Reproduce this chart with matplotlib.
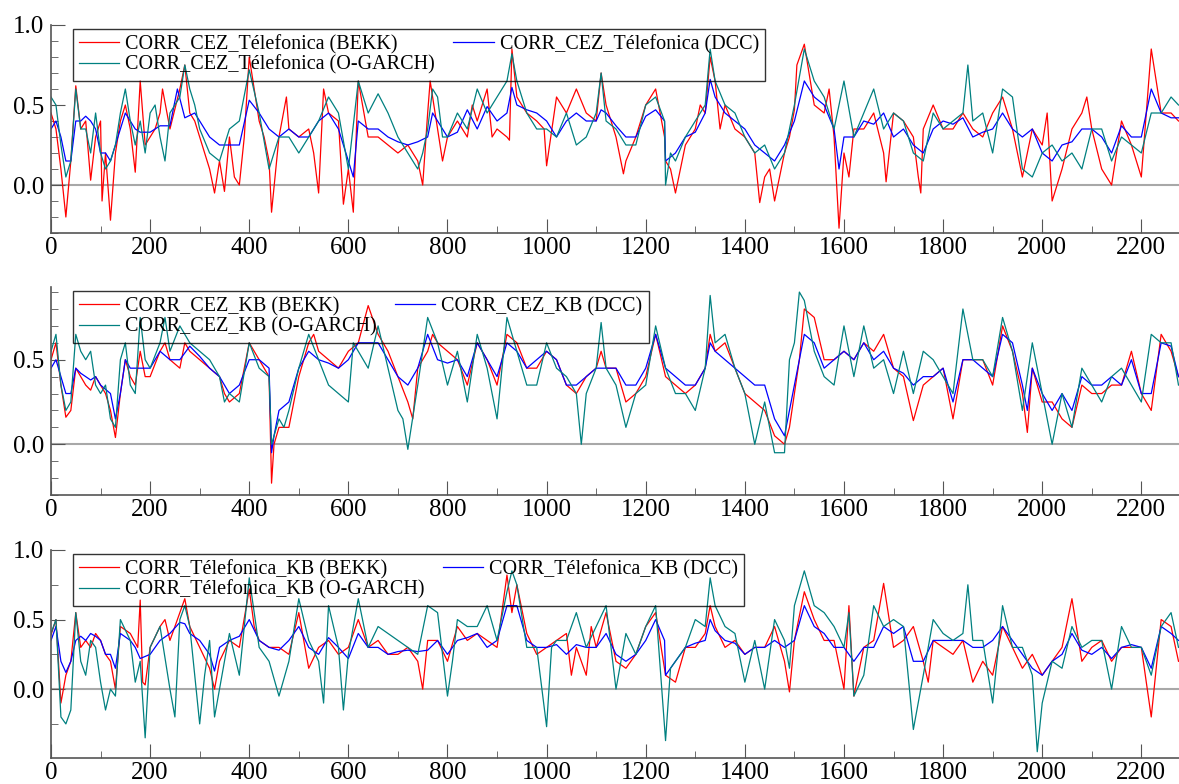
import numpy as np
import matplotlib.pyplot as plt
from matplotlib.ticker import MultipleLocator, FormatStrFormatter

plt.rcParams['font.family'] = ['Liberation Serif', 'DejaVu Serif']

# conditional correlations, (observation, value)
cez_tef_bekk = [(0, .45), (10, .35), (20, .1), (30, -.2), (40, .15), (50, .62), (60, .35), (70, .4), (80, .03), (90, .3),
                (100, .4), (103, -.1), (110, .2), (120, -.22), (130, .2), (140, .4), (150, .5), (160, .35), (170, .08),
                (180, .65), (190, .25), (200, .3), (210, .35), (220, .45), (225, .6), (240, .35), (260, .6), (270, .75),
                (280, .45), (290, .4), (300, .3), (310, .2), (320, .1), (330, -.05), (340, .15), (350, -.04), (360, .3),
                (370, .05), (380, .0), (390, .3), (400, .8), (410, .6), (420, .4), (430, .3), (440, .15), (445, -.17),
                (460, .3), (475, .55), (480, .35), (500, .3), (520, .35), (530, .2), (540, -.05), (550, .6), (560, .45),
                (580, .4), (590, -.12), (600, .1), (610, -.17), (620, .65), (640, .3), (660, .3), (680, .25), (700, .2),
                (720, .25), (740, .15), (750, .0), (760, .45), (765, .65), (780, .35), (790, .15), (800, .3), (820, .4),
                (840, .3), (850, .5), (860, .4), (880, .6), (890, .3), (900, .35), (920, .3), (925, .28), (930, .85),
                (940, .55), (960, .45), (980, .4), (995, .35), (1000, .12), (1020, .55), (1040, .45), (1060, .6),
                (1080, .45), (1100, .4), (1110, .7), (1120, .5), (1140, .3), (1155, .07), (1160, .15), (1180, .3),
                (1200, .5), (1220, .6), (1238, .3), (1240, .15), (1250, .1), (1260, -.05), (1280, .25), (1300, .35),
                (1310, .5), (1320, .45), (1330, .8), (1340, .65), (1350, .35), (1360, .5), (1380, .35), (1400, .3),
                (1420, .2), (1430, -.11), (1440, .05), (1450, .1), (1460, -.1), (1480, .2), (1490, .3), (1500, .47),
                (1505, .75), (1520, .88), (1540, .5), (1560, .45), (1570, .6), (1580, .3), (1590, -.27), (1600, .2),
                (1610, .05), (1620, .35), (1640, .35), (1660, .45), (1680, .2), (1685, .02), (1700, .45), (1720, .4),
                (1740, .3), (1750, .05), (1755, -.05), (1760, .35), (1780, .5), (1800, .35), (1820, .35), (1840, .45),
                (1860, .35), (1880, .3), (1900, .45), (1920, .55), (1940, .35), (1960, .05), (1980, .35), (2000, .25),
                (2010, .45), (2020, -.1), (2040, .1), (2060, .35), (2080, .45), (2090, .55), (2100, .35), (2120, .1),
                (2140, .0), (2160, .4), (2180, .25), (2200, .05), (2220, .85), (2240, .45), (2260, .45), (2275, .4)]
cez_tef_dcc = [(0, .35), (10, .4), (20, .3), (30, .15), (40, .15), (50, .4), (60, .4), (70, .43), (80, .4), (90, .35),
               (100, .2), (110, .2), (120, .15), (130, .25), (140, .35), (150, .45), (160, .4), (170, .35), (180, .33),
               (200, .33), (220, .37), (240, .37), (255, .6), (270, .42), (290, .45), (300, .4), (320, .3), (340, .25),
               (360, .25), (380, .25), (400, .53), (420, .45), (440, .35), (460, .3), (480, .35), (500, .3), (520, .3),
               (540, .4), (560, .45), (580, .35), (600, .15), (610, .05), (620, .4), (640, .35), (660, .35), (680, .3),
               (700, .27), (720, .25), (740, .27), (760, .3), (770, .45), (780, .4), (800, .3), (820, .33), (840, .47),
               (860, .35), (880, .49), (900, .4), (920, .45), (930, .61), (940, .5), (960, .47), (980, .45), (1000, .4),
               (1020, .3), (1040, .4), (1060, .45), (1080, .4), (1100, .4), (1110, .47), (1120, .45), (1140, .37),
               (1160, .3), (1180, .3), (1200, .43), (1220, .47), (1238, .4), (1240, .15), (1260, .2), (1280, .3),
               (1300, .33), (1320, .45), (1330, .66), (1340, .55), (1360, .45), (1380, .4), (1400, .35), (1420, .25),
               (1440, .2), (1460, .15), (1480, .25), (1500, .4), (1520, .65), (1540, .55), (1560, .5), (1580, .35),
               (1590, .1), (1600, .3), (1620, .3), (1640, .4), (1660, .38), (1680, .45), (1700, .3), (1720, .35),
               (1740, .25), (1760, .2), (1780, .35), (1800, .4), (1820, .38), (1840, .42), (1860, .3), (1880, .33),
               (1900, .35), (1920, .45), (1940, .35), (1960, .3), (1980, .35), (2000, .2), (2020, .15), (2040, .25),
               (2060, .27), (2080, .35), (2100, .35), (2120, .3), (2140, .2), (2160, .37), (2180, .3), (2200, .3),
               (2220, .6), (2240, .45), (2260, .42), (2275, .42)]
cez_tef_ogarch = [(0, .55), (10, .5), (20, .25), (30, .05), (40, .15), (50, .6), (60, .35), (70, .35), (80, .2), (90, .45),
                  (100, .2), (110, .1), (120, .15), (130, .25), (140, .45), (150, .6), (160, .4), (170, .25), (180, .4),
                  (190, .2), (200, .45), (210, .5), (220, .3), (230, .15), (240, .45), (250, .5), (260, .55), (270, .75),
                  (280, .6), (290, .5), (300, .35), (320, .2), (340, .15), (360, .35), (380, .4), (400, .72), (420, .45),
                  (440, .1), (460, .3), (480, .3), (500, .2), (520, .3), (540, .4), (560, .55), (580, .45), (600, .1),
                  (620, .65), (640, .45), (660, .57), (680, .45), (700, .3), (720, .2), (740, .1), (750, .2), (760, .35),
                  (770, .6), (780, .55), (790, .3), (800, .3), (820, .45), (840, .35), (860, .6), (880, .45), (900, .55),
                  (920, .65), (930, .82), (940, .65), (960, .45), (980, .35), (1000, .35), (1020, .3), (1040, .45),
                  (1060, .25), (1080, .3), (1100, .45), (1110, .7), (1120, .4), (1140, .35), (1160, .25), (1180, .25),
                  (1200, .5), (1220, .55), (1238, .4), (1240, .0), (1250, .2), (1260, .15), (1280, .3), (1300, .4),
                  (1320, .5), (1330, .85), (1340, .65), (1360, .5), (1380, .45), (1400, .3), (1420, .2), (1440, .25),
                  (1460, .1), (1480, .2), (1500, .5), (1520, .85), (1540, .65), (1560, .55), (1580, .35), (1600, .65),
                  (1620, .3), (1640, .45), (1660, .6), (1680, .35), (1700, .45), (1720, .4), (1740, .2), (1760, .15),
                  (1780, .45), (1800, .35), (1820, .4), (1840, .45), (1850, .75), (1860, .4), (1880, .45), (1900, .2),
                  (1920, .6), (1940, .55), (1960, .1), (1980, .05), (2000, .2), (2020, .25), (2040, .15), (2060, .2),
                  (2080, .1), (2100, .35), (2120, .35), (2140, .15), (2160, .3), (2180, .25), (2200, .2), (2220, .45),
                  (2240, .45), (2260, .55), (2275, .5)]

cez_kb_bekk = [(0, .5), (10, .6), (20, .35), (30, .16), (40, .2), (50, .45), (60, .4), (70, .35), (80, .32), (90, .4),
               (100, .35), (110, .3), (120, .2), (130, .04), (140, .3), (150, .5), (160, .4), (170, .35), (180, .55),
               (190, .4), (200, .4), (220, .55), (230, .6), (240, .5), (260, .45), (270, .6), (280, .55), (300, .5),
               (320, .45), (340, .4), (350, .3), (360, .25), (380, .3), (400, .6), (410, .55), (420, .5), (440, .4),
               (445, -.23), (450, .0), (460, .1), (480, .1), (500, .4), (520, .6), (530, .65), (540, .55), (560, .5),
               (580, .45), (600, .55), (620, .6), (640, .82), (660, .65), (680, .55), (700, .4), (720, .25), (730, .15),
               (740, .45), (760, .55), (770, .65), (780, .6), (800, .55), (820, .5), (840, .35), (860, .6), (880, .5),
               (900, .35), (920, .65), (940, .6), (960, .45), (980, .45), (1000, .55), (1020, .5), (1040, .35),
               (1060, .3), (1080, .4), (1100, .45), (1110, .55), (1120, .45), (1140, .45), (1160, .25), (1180, .3),
               (1200, .4), (1220, .65), (1240, .4), (1260, .35), (1280, .3), (1300, .35), (1320, .45), (1330, .65),
               (1340, .55), (1360, .6), (1380, .45), (1400, .3), (1420, .25), (1440, .2), (1460, .05), (1480, .0),
               (1490, .1), (1500, .3), (1510, .5), (1520, .8), (1540, .75), (1560, .5), (1580, .5), (1600, .55),
               (1620, .5), (1640, .6), (1660, .55), (1680, .65), (1700, .45), (1720, .4), (1740, .14), (1760, .35),
               (1780, .4), (1800, .45), (1820, .15), (1840, .5), (1860, .5), (1880, .5), (1900, .35), (1920, .7),
               (1940, .55), (1960, .3), (1970, .07), (1980, .45), (2000, .25), (2020, .25), (2040, .15), (2060, .1),
               (2080, .35), (2100, .3), (2120, .3), (2140, .35), (2160, .35), (2180, .55), (2200, .3), (2220, .2),
               (2240, .65), (2260, .55), (2275, .4)]
cez_kb_dcc = [(0, .45), (10, .5), (20, .4), (30, .3), (40, .3), (50, .45), (60, .42), (70, .4), (80, .38), (90, .4),
              (100, .35), (120, .3), (130, .15), (140, .3), (150, .5), (160, .45), (180, .45), (200, .45), (220, .55),
              (240, .5), (260, .5), (280, .58), (300, .52), (320, .45), (340, .4), (360, .3), (380, .35), (400, .5),
              (420, .5), (440, .45), (445, -.05), (450, .05), (460, .2), (480, .25), (490, .35), (500, .45), (520, .55),
              (540, .5), (560, .48), (580, .45), (600, .5), (620, .6), (640, .6), (660, .6), (680, .5), (700, .4),
              (720, .35), (740, .45), (760, .65), (780, .5), (800, .48), (820, .5), (840, .4), (860, .6), (880, .5),
              (900, .4), (920, .6), (940, .55), (960, .45), (980, .5), (1000, .55), (1020, .5), (1040, .35), (1060, .35),
              (1080, .4), (1100, .45), (1120, .45), (1140, .45), (1160, .35), (1180, .35), (1200, .45), (1220, .65),
              (1240, .45), (1260, .4), (1280, .35), (1300, .35), (1320, .45), (1330, .6), (1340, .55), (1360, .5),
              (1380, .45), (1400, .4), (1420, .35), (1440, .35), (1460, .15), (1480, .05), (1500, .35), (1520, .65),
              (1540, .6), (1560, .45), (1580, .5), (1600, .55), (1620, .5), (1640, .6), (1660, .5), (1680, .55),
              (1700, .45), (1720, .42), (1740, .35), (1760, .4), (1780, .4), (1800, .45), (1820, .25), (1840, .5),
              (1860, .5), (1880, .45), (1900, .4), (1920, .65), (1940, .6), (1960, .35), (1970, .2), (1980, .45),
              (2000, .3), (2020, .2), (2040, .3), (2060, .2), (2080, .4), (2100, .35), (2120, .35), (2140, .4),
              (2160, .35), (2180, .5), (2200, .3), (2220, .3), (2240, .6), (2260, .58), (2275, .4)]
cez_kb_ogarch = [(0, .55), (10, .65), (20, .35), (30, .2), (40, .25), (50, .65), (60, .55), (70, .5), (80, .55), (90, .35),
                 (100, .3), (110, .35), (120, .15), (130, .1), (140, .5), (150, .6), (160, .35), (170, .3), (180, .75),
                 (190, .5), (200, .45), (220, .6), (230, .75), (240, .55), (260, .7), (280, .6), (300, .55), (320, .5),
                 (340, .4), (350, .25), (360, .3), (380, .25), (400, .6), (420, .45), (440, .4), (445, .0), (450, .05),
                 (460, .15), (470, .1), (480, .2), (500, .45), (520, .65), (540, .5), (560, .35), (580, .3), (600, .25),
                 (610, .6), (620, .55), (640, .45), (660, .7), (680, .45), (700, .2), (710, .15), (720, -.03), (740, .35),
                 (760, .75), (780, .6), (800, .35), (820, .55), (840, .25), (860, .65), (880, .45), (900, .15), (920, .75),
                 (940, .55), (960, .35), (980, .35), (1000, .6), (1020, .45), (1040, .4), (1060, .3), (1070, .0),
                 (1080, .3), (1100, .45), (1110, .72), (1120, .45), (1140, .35), (1160, .1), (1180, .3), (1200, .35),
                 (1220, .7), (1240, .45), (1260, .3), (1280, .3), (1300, .2), (1320, .45), (1330, .88), (1340, .6),
                 (1360, .65), (1380, .45), (1400, .3), (1420, .0), (1440, .25), (1460, -.05), (1480, -.05), (1490, .5),
                 (1500, .6), (1510, .9), (1520, .85), (1540, .55), (1560, .4), (1580, .35), (1600, .7), (1620, .4),
                 (1640, .7), (1660, .45), (1680, .5), (1700, .3), (1720, .55), (1740, .3), (1760, .55), (1780, .5),
                 (1800, .4), (1820, .3), (1840, .8), (1860, .5), (1880, .5), (1900, .4), (1920, .75), (1940, .55),
                 (1960, .2), (1980, .6), (2000, .3), (2020, .0), (2040, .3), (2060, .1), (2080, .45), (2100, .35),
                 (2120, .25), (2140, .4), (2160, .45), (2180, .35), (2200, .25), (2220, .65), (2240, .6), (2260, .6),
                 (2275, .35)]

tef_kb_bekk = [(0, .39), (10, .5), (20, -.1), (30, .1), (40, .2), (50, .55), (60, .3), (70, .35), (80, .3), (90, .4),
               (100, .35), (110, .25), (120, .2), (130, .0), (140, .45), (160, .4), (175, .3), (180, .64), (185, .05),
               (190, .03), (200, .3), (220, .45), (230, .5), (240, .35), (260, .55), (270, .65), (280, .45), (300, .3),
               (320, .15), (330, .0), (340, .2), (360, .35), (380, .3), (400, .72), (410, .45), (420, .35), (440, .3),
               (460, .3), (480, .25), (500, .55), (520, .15), (540, .3), (560, .35), (580, .25), (600, .3), (620, .5),
               (640, .3), (660, .35), (680, .25), (700, .25), (720, .3), (740, .2), (750, .0), (760, .35), (780, .35),
               (800, .2), (820, .45), (840, .35), (860, .4), (880, .35), (900, .3), (920, .82), (930, .55), (940, .75),
               (960, .4), (980, .25), (1000, .3), (1020, .35), (1040, .4), (1050, .1), (1060, .3), (1080, .1),
               (1090, .45), (1100, .3), (1120, .55), (1140, .2), (1160, .15), (1180, .25), (1200, .45), (1220, .55),
               (1240, .1), (1260, .05), (1280, .3), (1300, .3), (1320, .4), (1330, .6), (1340, .45), (1360, .3),
               (1380, .35), (1400, .25), (1420, .3), (1440, .3), (1460, .45), (1480, .2), (1490, -.02), (1500, .35),
               (1520, .7), (1540, .5), (1560, .35), (1580, .35), (1600, .0), (1610, .6), (1620, -.05), (1640, .3),
               (1660, .35), (1680, .76), (1700, .3), (1720, .35), (1740, .45), (1760, .2), (1770, .05), (1780, .35),
               (1800, .3), (1820, .25), (1840, .35), (1860, .05), (1880, .2), (1900, .1), (1920, .45), (1940, .3),
               (1960, .15), (1980, .25), (2000, .1), (2020, .2), (2040, .3), (2060, .65), (2080, .2), (2100, .3),
               (2120, .35), (2140, .2), (2160, .3), (2180, .3), (2200, .3), (2220, -.2), (2240, .5), (2260, .45),
               (2275, .2)]
tef_kb_dcc = [(0, .35), (10, .45), (20, .2), (30, .12), (40, .2), (50, .35), (60, .38), (70, .35), (80, .4), (90, .38),
              (100, .35), (110, .25), (120, .25), (130, .15), (140, .4), (160, .35), (170, .3), (180, .22), (200, .25),
              (220, .35), (240, .4), (260, .48), (270, .47), (280, .4), (300, .35), (320, .25), (330, .13), (340, .3),
              (360, .35), (380, .38), (400, .5), (420, .35), (440, .3), (460, .28), (480, .35), (500, .45), (520, .3),
              (540, .25), (560, .37), (580, .3), (600, .22), (620, .4), (640, .3), (660, .3), (680, .25), (700, .27),
              (720, .28), (740, .27), (760, .28), (780, .35), (800, .25), (820, .35), (840, .37), (860, .4), (880, .3),
              (900, .35), (920, .6), (940, .6), (960, .35), (980, .3), (1000, .3), (1020, .32), (1040, .25),
              (1060, .32), (1080, .3), (1100, .3), (1120, .4), (1140, .25), (1160, .2), (1180, .25), (1200, .35),
              (1220, .5), (1238, .35), (1240, .1), (1260, .2), (1280, .3), (1300, .33), (1320, .35), (1330, .5),
              (1340, .42), (1360, .35), (1380, .33), (1400, .25), (1420, .3), (1440, .3), (1460, .35), (1480, .3),
              (1500, .35), (1520, .6), (1540, .45), (1560, .4), (1580, .3), (1600, .3), (1620, .2), (1640, .3),
              (1660, .3), (1680, .45), (1700, .4), (1720, .45), (1740, .2), (1760, .2), (1780, .35), (1800, .35),
              (1820, .35), (1840, .35), (1860, .3), (1880, .3), (1900, .35), (1920, .45), (1940, .35), (1960, .25),
              (1980, .15), (2000, .1), (2020, .2), (2040, .25), (2060, .4), (2080, .28), (2100, .25), (2120, .3),
              (2140, .22), (2160, .3), (2180, .32), (2200, .3), (2220, .15), (2240, .45), (2260, .4), (2275, .35)]
tef_kb_ogarch = [(0, .4), (10, .5), (20, -.2), (30, -.25), (40, -.15), (50, .55), (60, .2), (70, .1), (80, .35), (90, .3),
                 (100, .05), (110, -.15), (120, .0), (130, -.05), (140, .5), (160, .35), (170, .05), (180, .2),
                 (190, -.35), (200, .3), (220, .45), (240, .0), (250, -.2), (260, .5), (270, .6), (280, .45), (300, -.25),
                 (310, .1), (320, .35), (330, -.2), (340, .0), (360, .4), (380, .1), (400, .8), (420, .3), (440, .2),
                 (460, -.05), (480, .2), (500, .65), (520, .35), (540, .2), (550, -.1), (560, .6), (580, .3),
                 (590, -.15), (600, .25), (620, .65), (640, .3), (660, .45), (680, .4), (700, .35), (720, .3),
                 (740, .25), (760, .6), (780, .55), (800, -.05), (810, .2), (820, .5), (840, .45), (860, .45), (880, .6),
                 (900, .35), (920, .7), (930, .85), (940, .75), (960, .3), (980, .3), (1000, -.27), (1010, .3),
                 (1020, .35), (1040, .35), (1060, .55), (1080, .3), (1100, .45), (1120, .6), (1140, .0), (1160, .4),
                 (1180, .25), (1200, .45), (1220, .6), (1240, -.37), (1250, .15), (1260, .2), (1280, .3), (1300, .5),
                 (1320, .45), (1330, .8), (1340, .6), (1360, .45), (1380, .4), (1400, .05), (1420, .35), (1440, .0),
                 (1460, .5), (1480, .35), (1490, .15), (1500, .6), (1520, .85), (1540, .6), (1560, .55), (1580, .45),
                 (1600, .3), (1610, .55), (1620, -.05), (1640, .1), (1660, .6), (1680, .45), (1700, .5), (1720, .45),
                 (1740, -.29), (1760, .1), (1780, .5), (1800, .4), (1820, .35), (1840, .4), (1850, .75), (1860, .35),
                 (1880, .35), (1900, -.1), (1920, .6), (1940, .3), (1960, .3), (1980, .1), (1990, -.45), (2000, -.1),
                 (2020, .2), (2040, .15), (2060, .45), (2080, .3), (2100, .35), (2120, .35), (2140, .0), (2160, .45),
                 (2180, .3), (2200, .3), (2220, .1), (2240, .45), (2260, .55), (2275, .3)]

pairs = ["CEZ_Télefonica", "CEZ_KB", "Télefonica_KB"]
models = ["BEKK", "DCC", "O-GARCH"]
colors = ["#ff0000", "#0000ff", "#008080"]
series = [[cez_tef_bekk, cez_tef_dcc, cez_tef_ogarch],
          [cez_kb_bekk, cez_kb_dcc, cez_kb_ogarch],
          [tef_kb_bekk, tef_kb_dcc, tef_kb_ogarch]]
ylims = [(-0.3, 1.0), (-0.3, 0.93), (-0.495, 1.0)]
minor_step = [0.1, 0.1, 0.25]

fig = plt.figure(figsize=(11.79, 7.84), dpi=100)
W, H = 1179., 784.
tops = [25, 287, 550]
for i in range(3):
    top = tops[i]
    ax = fig.add_axes([51 / W, 1 - (top + 208) / H, 1128 / W, 208 / H])
    ax.axhline(0, color="#a8a8a8", lw=1.5, zorder=1)
    lines = []
    for s, m, c in zip(series[i], models, colors):
        d = np.array(s)
        l, = ax.plot(d[:, 0], d[:, 1], color=c, lw=0.9, label="CORR_%s (%s)" % (pairs[i], m), zorder=2)
        lines.append(l)
    ax.set_xlim(0, 2276)
    ax.set_ylim(*ylims[i])
    ax.xaxis.set_major_locator(MultipleLocator(200))
    ax.xaxis.set_minor_locator(MultipleLocator(100))
    ax.yaxis.set_major_locator(MultipleLocator(0.5))
    ax.yaxis.set_minor_locator(MultipleLocator(minor_step[i]))
    ax.yaxis.set_major_formatter(FormatStrFormatter("%.1f"))
    ax.tick_params(which="both", direction="in", color="#555555", labelsize=18, pad=5)
    ax.tick_params(axis="x", pad=3)
    ax.tick_params(which="major", length=10)
    ax.tick_params(which="minor", length=5)
    for side in ["top", "right"]:
        ax.spines[side].set_visible(False)
    for side in ["left", "bottom"]:
        ax.spines[side].set_color("#555555")
        ax.spines[side].set_linewidth(1.2)
    # BEKK and O-GARCH in the first column, DCC in the second
    order = [lines[0], lines[2], lines[1]]
    leg = ax.legend(order, [l.get_label() for l in order], ncol=2, loc="upper left",
                    bbox_to_anchor=(22 / 1128, 1 - 4 / 208), borderaxespad=0, fontsize=14.5,
                    frameon=True, fancybox=False, facecolor="none", edgecolor="black",
                    handlelength=2.0, handletextpad=0.3, columnspacing=0.9,
                    borderpad=0.3, labelspacing=0.05)
    leg.get_frame().set_linewidth(1.0)

fig.savefig("out.png", dpi=100)
